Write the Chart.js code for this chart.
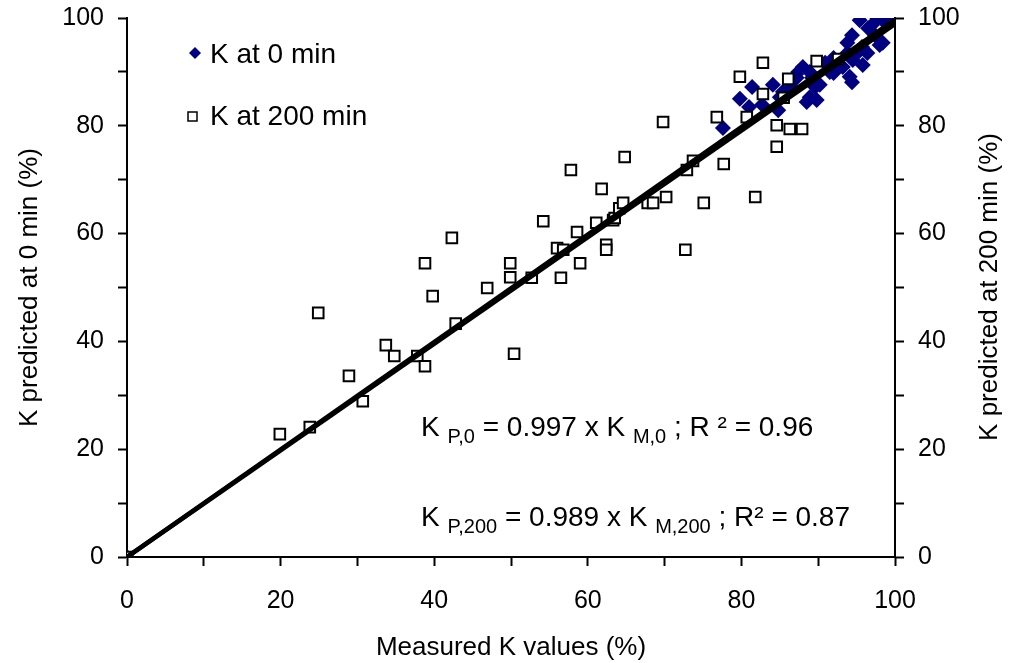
<!DOCTYPE html>
<html>
<head>
<meta charset="utf-8">
<script src="https://cdn.jsdelivr.net/npm/chart.js@4.4.1/dist/chart.umd.min.js"></script>
<style>
  body { margin: 0; background: #fff; }
</style>
</head>
<body>
<canvas id="chart" width="1011" height="663"></canvas>
<script>
const FONT = '"Liberation Sans", Arial, sans-serif';

// K at 0 min: measured (x) vs predicted (y), in %
const measured0 = [0, 77.6, 79.8, 81.0, 81.4, 82.7, 84.1, 84.8, 85.0, 85.4, 86.0, 86.6, 87.2, 87.4, 88.0,
  88.5, 88.9, 88.9, 89.2, 89.6, 89.8, 90.2, 90.9, 91.5, 92.0, 92.0, 93.2, 93.8, 93.8, 94.1, 94.4,
  94.4, 94.5, 95.1, 95.4, 95.7, 95.8, 96.4, 96.5, 97.0, 97.4, 97.7, 98.0, 98.4, 98.4, 99.3];
const predicted0 = [0, 79.6, 85.0, 83.5, 87.2, 83.9, 87.6, 82.9, 85.3, 86.3, 86.6, 87.0, 88.9, 90.0, 90.9,
  84.4, 85.3, 90.0, 88.9, 87.2, 84.8, 87.6, 91.7, 90.0, 89.8, 92.6, 90.9, 93.5, 95.4, 89.1, 88.1,
  96.8, 92.2, 93.5, 99.6, 94.6, 91.3, 93.5, 98.1, 98.7, 96.8, 100, 95.0, 95.4, 99.6, 100];

// K at 200 min
const measured200 = [0, 19.9, 23.8, 24.9, 28.9, 30.7, 33.7, 34.8, 37.8, 38.8, 38.8, 39.8, 42.3, 42.8,
  46.9, 49.9, 49.9, 50.4, 52.7, 54.2, 56.0, 56.5, 56.8, 57.8, 58.6, 59.0, 61.1, 61.8, 62.4, 62.4,
  63.3, 63.5, 64.1, 64.6, 64.8, 67.8, 68.5, 69.8, 70.2, 72.7, 72.9, 73.7, 75.1, 76.8, 77.7, 79.8,
  80.7, 81.8, 82.8, 82.8, 84.6, 84.6, 85.5, 86.1, 86.3, 87.9, 89.8, 92.6];
const predicted200 = [0, 22.8, 24.1, 45.3, 33.6, 28.9, 39.3, 37.3, 37.3, 35.4, 54.5, 48.4, 59.2, 43.3,
  49.9, 54.5, 51.9, 37.7, 51.8, 62.3, 57.3, 51.8, 57.0, 71.8, 60.3, 54.5, 62.0, 68.3, 57.9, 57.0,
  62.5, 62.9, 64.7, 65.7, 74.2, 65.7, 65.7, 80.7, 66.8, 57.0, 71.8, 73.5, 65.7, 81.6, 72.9, 89.1,
  81.6, 66.8, 91.7, 85.9, 80.1, 76.1, 85.2, 88.7, 79.4, 79.4, 92.0, 92.4];

// fitted lines (through origin) end points
const fitX = [0, 100];
const fit0Y = [0, 99.7];
const fit200Y = [0, 98.9];

const axisTicks = [0, 20, 40, 60, 80, 100];

const toPoints = (xs, ys) => xs.map((x, i) => ({ x: x, y: ys[i] }));

// legend + equations + right axis title, drawn on top
const overlay = {
  id: 'overlay',
  afterDraw(chart) {
    const ctx = chart.ctx;
    ctx.save();
    ctx.textBaseline = 'middle';
    ctx.textAlign = 'left';

    // legend
    ctx.fillStyle = '#000080';
    ctx.beginPath();
    ctx.moveTo(195, 47); ctx.lineTo(201, 53); ctx.lineTo(195, 59); ctx.lineTo(189, 53);
    ctx.closePath(); ctx.fill();
    ctx.fillStyle = '#fff';
    ctx.strokeStyle = '#000';
    ctx.lineWidth = 1.5;
    ctx.fillRect(188, 112, 9, 9);
    ctx.strokeRect(188, 112, 9, 9);
    ctx.fillStyle = '#000';
    ctx.font = '28px ' + FONT;
    ctx.fillText('K at 0 min', 210, 55);
    ctx.fillText('K at 200 min', 210, 117);

    // equations
    ctx.textBaseline = 'alphabetic';
    const eq = (parts, x, y) => {
      parts.forEach(p => {
        ctx.font = (p[1] ? '20px ' : '28px ') + FONT;
        ctx.fillText(p[0], x, y + (p[1] ? 7 : 0));
        x += ctx.measureText(p[0]).width;
      });
    };
    eq([['K ', 0], ['P,0', 1], [' = 0.997 x K ', 0], ['M,0', 1], [' ; R \u00b2 = 0.96', 0]], 421, 436);
    eq([['K ', 0], ['P,200', 1], [' = 0.989 x K ', 0], ['M,200', 1], [' ; R\u00b2 = 0.87', 0]], 421, 526);

    // right axis title reads bottom-to-top
    ctx.translate(990, 287);
    ctx.rotate(-Math.PI / 2);
    ctx.textAlign = 'center';
    ctx.textBaseline = 'middle';
    ctx.font = '26px ' + FONT;
    ctx.fillText('K predicted at 200 min (%)', 0, 0);
    ctx.restore();
  }
};

const tickLabel = v => axisTicks.includes(v) ? String(v) : '';

const axisBase = {
  type: 'linear',
  min: 0,
  max: 100,
  grid: { drawOnChartArea: false, drawTicks: true, tickLength: 9, tickWidth: 2, tickColor: '#000' },
  border: { display: true, color: '#000', width: 2 },
  ticks: { stepSize: 10, color: '#000', font: { size: 25, family: FONT }, callback: tickLabel, maxRotation: 0, autoSkip: false }
};

// fixed box sizes so the plot area sits where the reference has it
const fixBox = (w, h) => s => {
  if (w) s.width = w;
  if (h) s.height = h;
  s.paddingTop = 0; s.paddingBottom = 0; s.paddingLeft = 0; s.paddingRight = 0;
};

new Chart(document.getElementById('chart'), {
  type: 'scatter',
  data: {
    datasets: [
      {
        label: 'K at 0 min',
        data: toPoints(measured0, predicted0),
        pointStyle: 'rectRot',
        pointRadius: 8,
        backgroundColor: '#000080',
        borderColor: '#000080',
        borderWidth: 0,
        order: 3
      },
      {
        label: 'K at 200 min',
        data: toPoints(measured200, predicted200),
        pointStyle: 'rect',
        pointRadius: 7.5,
        backgroundColor: '#fff',
        borderColor: '#000',
        borderWidth: 2,
        order: 2
      },
      {
        label: 'fit 0',
        data: toPoints(fitX, fit0Y),
        showLine: true,
        pointRadius: 0,
        borderColor: '#000',
        borderWidth: 4.5,
        order: 1
      },
      {
        label: 'fit 200',
        data: toPoints(fitX, fit200Y),
        showLine: true,
        pointRadius: 0,
        borderColor: '#000',
        borderWidth: 4.5,
        order: 1
      }
    ]
  },
  options: {
    responsive: false,
    animation: false,
    devicePixelRatio: 1,
    layout: { padding: { top: 18, left: 0, right: 0, bottom: 0 } },
    plugins: { legend: { display: false }, tooltip: { enabled: false } },
    scales: {
      x: {
        ...axisBase,
        position: 'bottom',
        ticks: { ...axisBase.ticks, padding: 20 },
        title: { display: true, text: 'Measured K values (%)', color: '#000', font: { size: 26, family: FONT }, padding: { top: 0, bottom: 0 } },
        afterFit: fixBox(0, 106)
      },
      y: {
        ...axisBase,
        position: 'left',
        ticks: { ...axisBase.ticks, padding: 14 },
        title: { display: true, text: 'K predicted at 0 min (%)', color: '#000', font: { size: 26, family: FONT }, padding: { top: 14, bottom: 0 } },
        afterFit: fixBox(127, 0)
      },
      y2: {
        ...axisBase,
        position: 'right',
        ticks: { ...axisBase.ticks, padding: 14 },
        afterFit: fixBox(116, 0)
      }
    }
  },
  plugins: [overlay]
});
</script>
</body>
</html>
